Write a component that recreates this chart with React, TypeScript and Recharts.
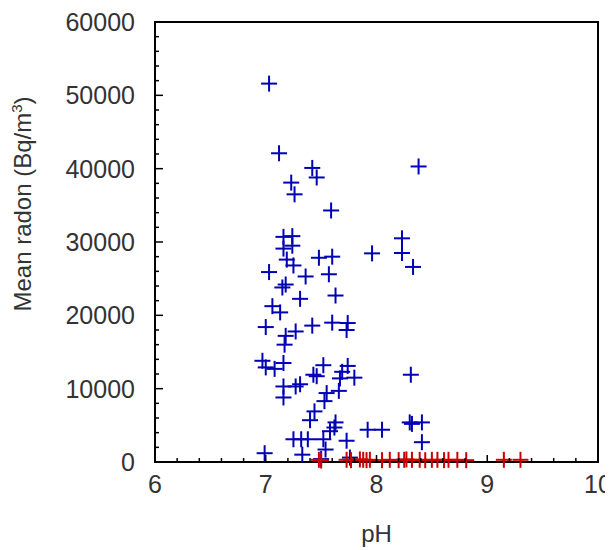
import React from "react";
import { ScatterChart, Scatter, XAxis, YAxis, ReferenceArea } from "recharts";

const bluePH = [
  7.03, 7.12, 7.42, 7.46, 7.23, 7.26, 7.59, 8.38, 7.16, 7.24, 7.16, 7.24, 7.19, 7.25, 7.03, 7.36,
  7.48, 7.6, 7.57, 7.96, 8.23, 8.23, 8.33, 7.15, 7.18, 7.31, 7.63, 7.06, 7.13, 7.0, 7.18, 7.27,
  7.17, 7.42, 7.6, 7.74, 7.73, 6.97, 7.0, 7.08, 7.16, 7.43, 7.52, 7.46, 7.74, 7.8, 7.67, 7.69,
  7.16, 7.27, 7.31, 7.16, 7.55, 7.66, 7.53, 8.31, 7.44, 7.4, 7.63, 7.62, 7.58, 7.25, 7.32, 7.38,
  7.52, 7.54, 7.73, 6.99, 7.33, 7.5, 7.76, 7.92, 8.05, 8.3, 8.32, 8.41, 8.41,
];
const blueRadon = [
  51600, 42100, 40100, 38800, 38100, 36500, 34300, 40300, 30700, 30800, 29100, 29500, 27600, 26800, 25900, 25300,
  27850, 28000, 25600, 28450, 30500, 28500, 26600, 23800, 24200, 22250, 22700, 21250, 20400, 18400, 17200, 17800,
  16000, 18600, 19000, 18950, 18000, 13800, 12900, 12700, 13500, 11900, 13200, 11700, 13100, 11500, 11400, 12300,
  10300, 10300, 10600, 8800, 9400, 9700, 8300, 11900, 6900, 5700, 5400, 4700, 4200, 3100, 3100, 3100,
  3100, 1700, 2900, 1200, 1000, 400, 600, 4400, 4400, 5400, 5200, 5400, 2700,
];
const redPH = [
  7.48, 7.5, 7.73, 7.77, 7.85, 7.88, 7.91, 7.94, 8.05, 8.12, 8.2, 8.25, 8.27, 8.32, 8.39, 8.44,
  8.5, 8.55, 8.61, 8.65, 8.73, 8.81, 9.15, 9.3,
];
const redRadon = [
  300, 200, 300, 250, 350, 300, 250, 300, 250, 300, 250, 300, 350, 300, 300, 250,
  300, 300, 250, 300, 300, 250, 300, 300,
];
const xTicks = [
  6, 6.2, 6.4, 6.6, 6.8, 7, 7.2, 7.4, 7.6, 7.8, 8, 8.2, 8.4, 8.6, 8.8, 9, 9.2, 9.4, 9.6, 9.8, 10,
];
const yTicks = [
  0, 2000, 4000, 6000, 8000, 10000, 12000, 14000, 16000, 18000, 20000, 22000, 24000, 26000, 28000, 30000,
  32000, 34000, 36000, 38000, 40000, 42000, 44000, 46000, 48000, 50000, 52000, 54000, 56000, 58000, 60000,
];
const xMajor = [6, 7, 8, 9, 10];
const yMajor = [0, 10000, 20000, 30000, 40000, 50000, 60000];

const blueData = bluePH.map((ph, i) => ({ ph, radon: blueRadon[i] }));
const redData = redPH.map((ph, i) => ({ ph, radon: redRadon[i] }));

const FONT = "'Liberation Sans', Arial, sans-serif";
const TXT = "#333";

const XTick = (props: any) => {
  const { x, y, payload } = props;
  const major = xMajor.includes(payload.value);
  return (
    <g>
      <line x1={x} x2={x} y1={y} y2={y - (major ? 7 : 4)} stroke="#000" strokeWidth={1.5} />
      {major && (
        <text x={x} y={y + 31} textAnchor="middle" fontSize={25} fontFamily={FONT} fill={TXT}>
          {payload.value}
        </text>
      )}
    </g>
  );
};

const YTick = (props: any) => {
  const { x, y, payload } = props;
  const major = yMajor.includes(payload.value);
  return (
    <g>
      <line x1={x} x2={x + (major ? 8 : 4)} y1={y} y2={y} stroke="#000" strokeWidth={1.5} />
      {major && (
        <text x={x - 20} y={y + 9} textAnchor="end" fontSize={25} fontFamily={FONT} fill={TXT}>
          {payload.value}
        </text>
      )}
    </g>
  );
};

const makeCross = (color: string) => (props: any) => {
  const { cx, cy } = props;
  if (cx == null || cy == null) return <g />;
  const a = 8;
  return (
    <g>
      <line x1={cx - a} x2={cx + a} y1={cy} y2={cy} stroke={color} strokeWidth={2} />
      <line x1={cx} x2={cx} y1={cy - a} y2={cy + a} stroke={color} strokeWidth={2} />
    </g>
  );
};

export default function App() {
  return (
    <div style={{ width: 605, height: 542, background: "#fff" }}>
      <ScatterChart width={605} height={542} margin={{ top: 14, right: 15, left: 0, bottom: 37 }}>
        <XAxis
          type="number"
          dataKey="ph"
          domain={[6, 10]}
          ticks={xTicks}
          interval={0}
          tickSize={0}
          tickMargin={0}
          axisLine={false}
          tickLine={false}
          tick={<XTick />}
          height={51}
          label={{
            content: (p: any) => {
              const vb = p.viewBox || {};
              const cx = (vb.x || 0) + (vb.width || 0) / 2;
              return (
                <text x={cx} y={534} textAnchor="middle" fontSize={24} fontFamily={FONT} fill={TXT}>
                  pH
                </text>
              );
            },
          }}
        />
        <YAxis
          type="number"
          dataKey="radon"
          domain={[0, 60000]}
          ticks={yTicks}
          interval={0}
          tickSize={0}
          tickMargin={0}
          axisLine={false}
          tickLine={false}
          tick={<YTick />}
          width={147}
          label={{
            content: () => (
              <text
                x={23}
                y={196}
                transform="rotate(-90 23 196)"
                textAnchor="middle"
                fontSize={24}
                fontFamily={FONT}
                fill={TXT}
              >
                Mean radon (Bq/m
                <tspan dy={-9} fontSize={15}>3</tspan>
                <tspan dy={9}>)</tspan>
              </text>
            ),
          }}
        />
        <ReferenceArea x1={6} x2={10} y1={0} y2={60000} fill="none" stroke="#000" strokeWidth={2} />
        <Scatter data={blueData} fill="#0000b4" shape={makeCross("#0000b4")} isAnimationActive={false} />
        <Scatter data={redData} fill="#cc0000" shape={makeCross("#cc0000")} isAnimationActive={false} />
      </ScatterChart>
    </div>
  );
}
